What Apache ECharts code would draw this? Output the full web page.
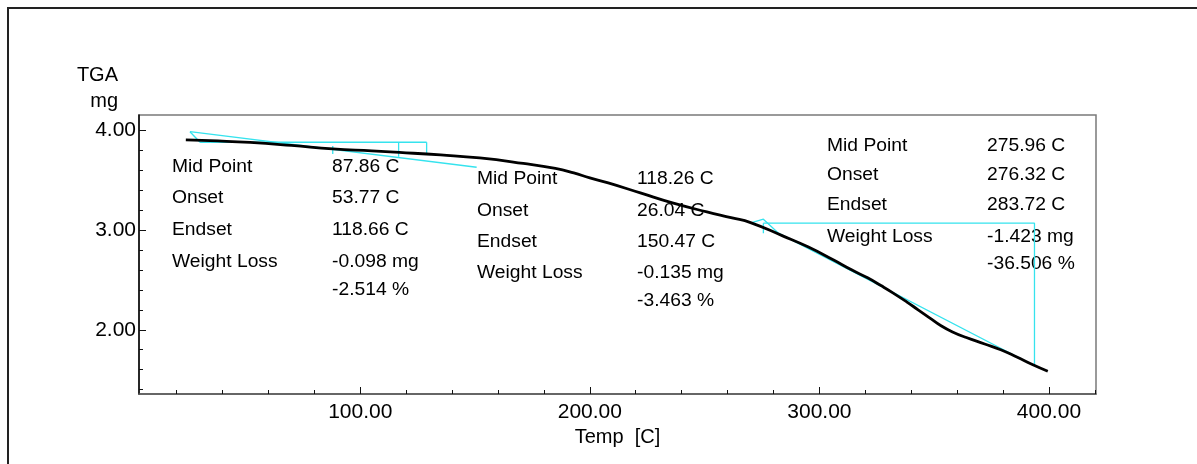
<!DOCTYPE html>
<html><head><meta charset="utf-8">
<script src="https://cdn.jsdelivr.net/npm/echarts@6/dist/echarts.min.js"></script>
<style>html,body{margin:0;padding:0;background:#fff}#c{width:1197px;height:464px}</style>
</head><body><div id="c"></div>
<script>
// ---- data ----
const temps  = [24, 38, 52, 70, 88, 105, 117, 135, 152, 171, 185, 193, 200, 208, 222, 236, 251, 262, 270, 284, 295, 306, 314, 321, 327, 332, 338, 343, 348, 353, 358, 364, 372, 379, 386, 393, 399.5];
const masses = [3.90, 3.89, 3.875, 3.845, 3.81, 3.79, 3.775, 3.75, 3.72, 3.665, 3.615, 3.57, 3.52, 3.47, 3.37, 3.27, 3.18, 3.12, 3.073, 2.94, 2.83, 2.70, 2.60, 2.52, 2.44, 2.37, 2.28, 2.20, 2.12, 2.04, 1.978, 1.922, 1.858, 1.80, 1.727, 1.65, 1.585];

// cyan analysis construction lines [temp, mass]
const step1Tangent = [[25.8, 3.983], [150.7, 3.627]];
const step1Short   = [[25.8, 3.983], [30.2, 3.877]];
const step1Base    = [[30.2, 3.877], [128.9, 3.877]];
const step1Drop1   = [[116.7, 3.877], [116.7, 3.733]];
const step1Drop2   = [[128.9, 3.877], [128.9, 3.75]];
const step1Mid     = [[88.0, 3.84], [88.0, 3.76]];
const step3Tangent = [[269.8, 3.067], [275.6, 3.107], [282.2, 2.967], [393.7, 1.64]];
const step3Base    = [[275.6, 3.067], [393.7, 3.067], [393.7, 1.64]];
const step3Mid     = [[275.6, 3.067], [275.6, 2.967]];

const xMajorTicks = [100, 200, 300, 400];
const xMinorTicks = [20, 40, 60, 80, 100, 120, 140, 160, 180, 200, 220, 240, 260, 280, 300, 320, 340, 360, 380, 400, 420];
const yMajorTicks = [2, 3, 4];
const yMinorTicks = [1.4, 1.6, 1.8, 2.0, 2.2, 2.4, 2.6, 2.8, 3.0, 3.2, 3.4, 3.6, 3.8, 4.0];

const annLabels  = ['Mid Point', 'Onset', 'Endset', 'Weight Loss'];
const ann1Values = ['87.86 C', '53.77 C', '118.66 C', '-0.098 mg', '-2.514 %'];
const ann2Values = ['118.26 C', '26.04 C', '150.47 C', '-0.135 mg', '-3.463 %'];
const ann3Values = ['275.96 C', '276.32 C', '283.72 C', '-1.423 mg', '-36.506 %'];

// ---- chart ----
const FONT = 'Liberation Sans';
const chart = echarts.init(document.getElementById('c'));
const curve = temps.map((t, i) => [t, masses[i]]);
const cyanSegs = [step1Tangent, step1Short, step1Base, step1Drop1, step1Drop2, step1Mid, step3Tangent, step3Base, step3Mid];

const series = [];
cyanSegs.forEach(seg => series.push({
  type: 'line', data: seg, symbol: 'none', silent: true, z: 3,
  lineStyle: { color: '#35E3EE', width: 1.3 }
}));
series.push({
  type: 'line', data: curve, symbol: 'none', smooth: 0.5, silent: true, z: 4,
  lineStyle: { color: '#000', width: 2.8 }
});

function txt(t, x, y) {
  return { type: 'text', x: x, y: y, scaleX: 1.07, silent: true,
    style: { text: t, font: '18px ' + FONT, fill: '#000', textVerticalAlign: 'middle', verticalAlign: 'middle' } };
}
function block(labels, values, lx, vx, ys) {
  const out = [];
  labels.forEach((t, i) => out.push(txt(t, lx, ys[i])));
  values.forEach((t, i) => out.push(txt(t, vx, ys[i])));
  return out;
}

const xBase = { type: 'value', min: 3.6, max: 420.5, gridIndex: 0, splitLine: { show: false } };
const yBase = { type: 'value', min: 1.357, max: 4.15, gridIndex: 0, splitLine: { show: false } };

chart.setOption({
  animation: false,
  backgroundColor: '#fff',
  grid: { left: 139, top: 115, right: 101, bottom: 70, show: true, borderColor: '#7a7a7a', borderWidth: 1.5 },
  xAxis: [
    Object.assign({}, xBase, {
      position: 'bottom',
      name: 'Temp  [C]', nameLocation: 'middle', nameGap: 32,
      nameTextStyle: { fontFamily: FONT, fontSize: 20, color: '#000' },
      axisLine: { show: true, lineStyle: { color: '#555', width: 1.5 } },
      axisTick: { show: true, inside: true, length: 4, customValues: xMinorTicks, lineStyle: { color: '#111' } },
      axisLabel: { show: true, customValues: xMajorTicks, margin: 8, fontFamily: FONT, fontSize: 21, color: '#000', formatter: v => v.toFixed(2) }
    }),
    Object.assign({}, xBase, {
      position: 'bottom',
      axisLine: { show: false },
      axisTick: { show: true, inside: true, length: 7, customValues: xMajorTicks, lineStyle: { color: '#111' } },
      axisLabel: { show: false }
    })
  ],
  yAxis: [
    Object.assign({}, yBase, {
      position: 'left',
      name: 'TGA\nmg', nameLocation: 'end', nameGap: 1,
      nameTextStyle: { fontFamily: FONT, fontSize: 20, color: '#000', align: 'right', verticalAlign: 'bottom', lineHeight: 26, padding: [0, 21, 0, 0] },
      axisLine: { show: true, lineStyle: { color: '#000', width: 1.5 } },
      axisTick: { show: true, inside: true, length: 4, customValues: yMinorTicks, lineStyle: { color: '#111' } },
      axisLabel: { show: true, customValues: yMajorTicks, margin: 3, fontFamily: FONT, fontSize: 21, color: '#000', formatter: v => v.toFixed(2) }
    }),
    Object.assign({}, yBase, {
      position: 'left',
      axisLine: { show: false },
      axisTick: { show: true, inside: true, length: 7, customValues: yMajorTicks, lineStyle: { color: '#111' } },
      axisLabel: { show: false }
    })
  ],
  graphic: [
    { type: 'rect', shape: { x: 8, y: 8, width: 1400, height: 700 }, style: { fill: 'none', stroke: '#222', lineWidth: 2 }, z: -10, silent: true }
  ].concat(
    block(annLabels, ann1Values, 172, 332, [167, 198, 230, 262, 290]),
    block(annLabels, ann2Values, 477, 637, [179, 211, 242, 273, 301]),
    block(annLabels, ann3Values, 827, 987, [146, 175, 205, 237, 264])
  ),
  series: series
});
</script></body></html>
